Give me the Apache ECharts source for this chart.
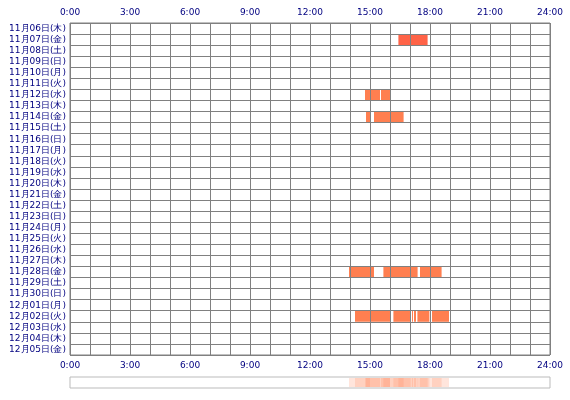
<!DOCTYPE html>
<html><head><meta charset="utf-8">
<script src="https://cdn.jsdelivr.net/npm/echarts@6/dist/echarts.min.js"></script>
<style>html,body{margin:0;padding:0;background:#fff}#c{width:570px;height:400px}</style>
</head><body><div id="c"></div>
<script>
const days = ['11月06日(木)','11月07日(金)','11月08日(土)','11月09日(日)','11月10日(月)','11月11日(火)','11月12日(水)','11月13日(木)','11月14日(金)','11月15日(土)','11月16日(日)','11月17日(月)','11月18日(火)','11月19日(水)','11月20日(木)','11月21日(金)','11月22日(土)','11月23日(日)','11月24日(月)','11月25日(火)','11月26日(水)','11月27日(木)','11月28日(金)','11月29日(土)','11月30日(日)','12月01日(月)','12月02日(火)','12月03日(水)','12月04日(木)','12月05日(金)'];
const hourTicks = ['0:00','3:00','6:00','9:00','12:00','15:00','18:00','21:00','24:00'];
// [dayIndex, startHour, endHour]
const intervals = [
  [1,16.42,17.88],
  [6,14.75,15.5],[6,15.55,16.0],
  [8,14.8,15.0],[8,15.2,16.68],
  [22,13.95,15.2],[22,15.67,17.38],[22,17.5,18.58],
  [26,14.25,16.0],[26,16.17,17.03],[26,17.1,17.15],[26,17.2,17.3],[26,17.37,17.97],[26,18.1,18.95]
];
const chart = echarts.init(document.getElementById('c'));
const font = {fontFamily:'DejaVu Sans', fontSize:9, color:'#000080'};
const hx = {type:'value', min:0, max:24, interval:1,
  axisLine:{show:false}, axisTick:{show:false},
  axisLabel:Object.assign({formatter:v=> v%3===0 ? hourTicks[v/3] : '', margin:6, showMinLabel:true, showMaxLabel:true}, font),
  splitLine:{show:true, lineStyle:{color:'#808080', width:1}}};
chart.setOption({
  animation:false,
  grid:[{left:70,right:20,top:23,bottom:45,show:true,borderColor:'#808080',borderWidth:1},
        {left:70,right:20,top:377,height:11,show:true,borderColor:'#bbbbbb',borderWidth:1}],
  xAxis:[Object.assign({gridIndex:0, position:'top'}, hx),
         Object.assign({gridIndex:0, position:'bottom'}, hx, {splitLine:{show:false}}),
         {gridIndex:1,type:'value',min:0,max:24,show:false}],
  yAxis:[{gridIndex:0,type:'category',data:days,inverse:true,
          axisLine:{show:false},axisTick:{show:false},
          axisLabel:Object.assign({margin:4,interval:0},font),
          splitLine:{show:true,interval:0,lineStyle:{color:'#808080',width:1}}},
         {gridIndex:1,type:'value',min:0,max:1,show:false}],
  series:[{type:'custom',xAxisIndex:0,yAxisIndex:0,z:-1,
    data:intervals,
    encode:{x:[1,2],y:0},
    renderItem:function(params,api){
      const a=api.coord([api.value(1),api.value(0)]);
      const b=api.coord([api.value(2),api.value(0)]);
      const h=api.size([0,1])[1];
      return {type:'rect',shape:{x:a[0],y:a[1]-h/2,width:b[0]-a[0],height:h},
        style:{fill: api.value(0)===1 ? '#ff6347' : '#ff7f50'}};
    }},
   {type:'custom',xAxisIndex:2,yAxisIndex:1,
    data:intervals,
    encode:{x:[1,2]},
    renderItem:function(params,api){
      const a=api.coord([api.value(1),1]);
      const b=api.coord([api.value(2),0]);
      return {type:'rect',shape:{x:a[0],y:a[1]+1,width:b[0]-a[0],height:b[1]-a[1]-2},
        style:{fill:'#ff7f50',opacity:0.2}};
    }}]
});
</script></body></html>
